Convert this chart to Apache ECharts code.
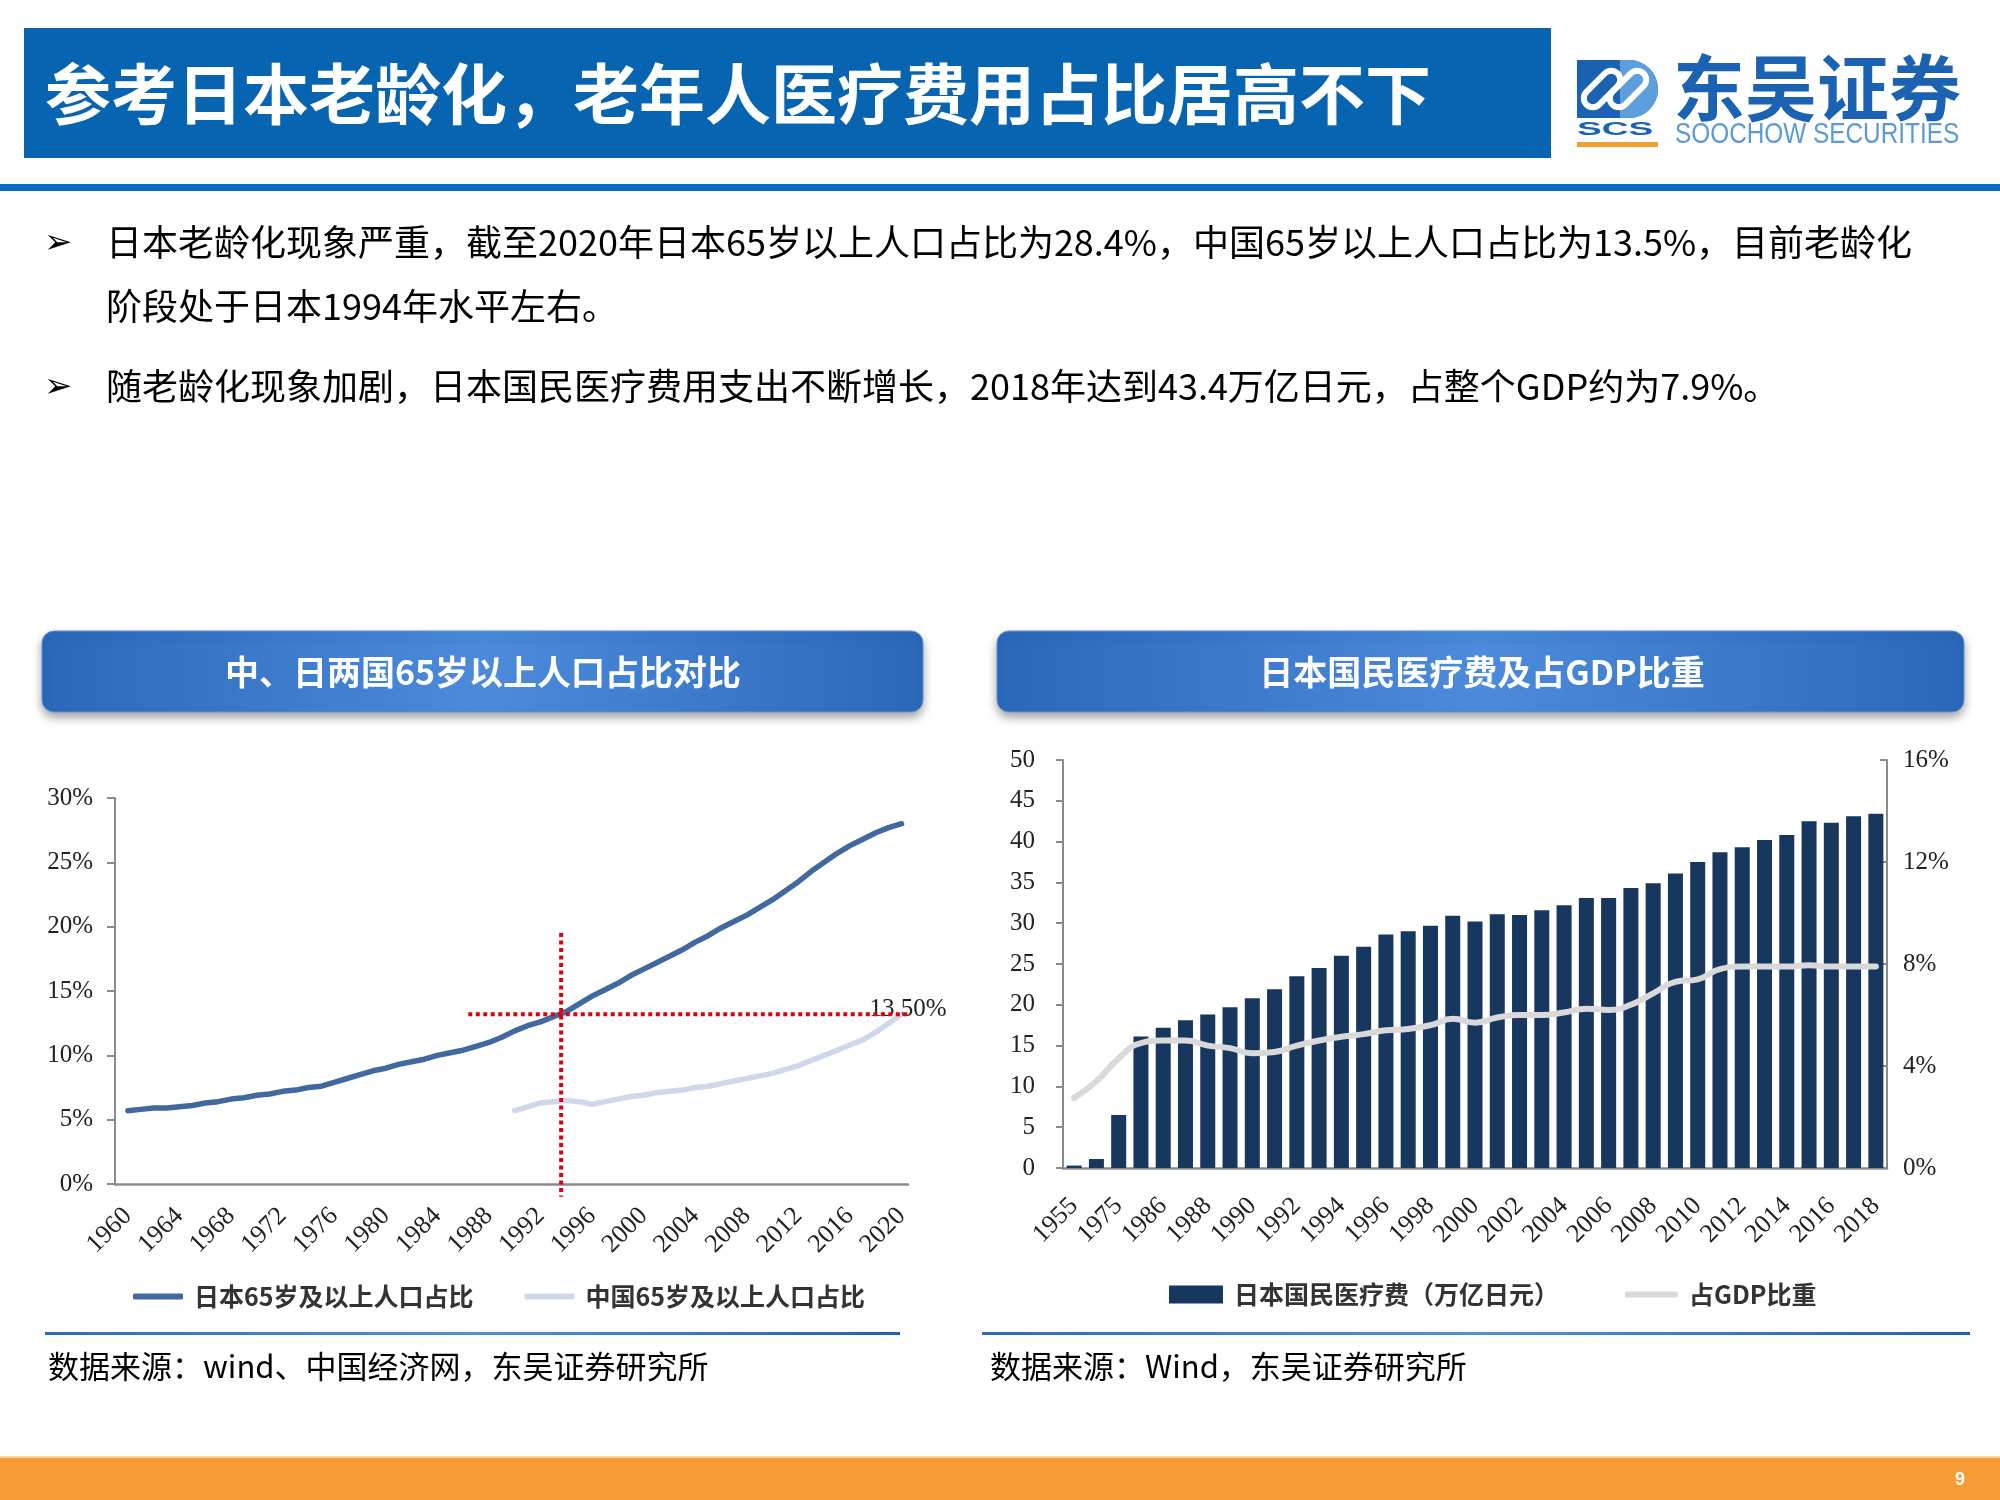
<!DOCTYPE html>
<html><head><meta charset="utf-8">
<script src="https://cdn.jsdelivr.net/npm/echarts@6/dist/echarts.min.js"></script>
<style>html,body{margin:0;padding:0;background:#fff}#c{width:2000px;height:1500px}</style>
</head><body><div id="c"></div>
<script>
// ---------- DATA ----------
const JP_YEARS = [1960,1961,1962,1963,1964,1965,1966,1967,1968,1969,1970,1971,1972,1973,1974,1975,1976,1977,1978,1979,1980,1981,1982,1983,1984,1985,1986,1987,1988,1989,1990,1991,1992,1993,1994,1995,1996,1997,1998,1999,2000,2001,2002,2003,2004,2005,2006,2007,2008,2009,2010,2011,2012,2013,2014,2015,2016,2017,2018,2019,2020];
const JP_65 = [5.7,5.8,5.9,5.9,6.0,6.1,6.3,6.4,6.6,6.7,6.9,7.0,7.2,7.3,7.5,7.6,7.9,8.2,8.5,8.8,9.0,9.3,9.5,9.7,10.0,10.2,10.4,10.7,11.0,11.4,11.9,12.3,12.6,13.0,13.4,14.0,14.6,15.1,15.6,16.2,16.7,17.2,17.7,18.2,18.8,19.3,19.9,20.4,20.9,21.5,22.1,22.8,23.5,24.3,25.0,25.7,26.3,26.8,27.3,27.7,28.0];
const CN_YEARS = [1990,1991,1992,1993,1994,1995,1996,1997,1998,1999,2000,2001,2002,2003,2004,2005,2006,2007,2008,2009,2010,2011,2012,2013,2014,2015,2016,2017,2018,2019,2020];
const CN_65 = [5.7,6.0,6.3,6.4,6.5,6.4,6.2,6.4,6.6,6.8,6.9,7.1,7.2,7.3,7.5,7.6,7.8,8.0,8.2,8.4,8.6,8.9,9.2,9.6,10.0,10.4,10.8,11.2,11.8,12.5,13.2];
const LEFT_TICKS = [1960,1964,1968,1972,1976,1980,1984,1988,1992,1996,2000,2004,2008,2012,2016,2020];
// reference (dotted red) lines
const REF_V_YEAR = 1993.6, REF_V_TOP = 19.5, REF_V_BOTTOM = -1.0;
const REF_H_VALUE = 13.2, REF_H_START = 1986.4, REF_H_END = 2021.6;
const REF_LABEL = '13.50%';

const MED_YEARS = ['1955','1965','1975','1985','1986','1987','1988','1989','1990','1991','1992','1993','1994','1995','1996','1997','1998','1999','2000','2001','2002','2003','2004','2005','2006','2007','2008','2009','2010','2011','2012','2013','2014','2015','2016','2017','2018'];
const MED_COST = [0.3,1.1,6.5,16.1,17.2,18.1,18.8,19.7,20.8,21.9,23.5,24.5,26.0,27.1,28.6,29.0,29.7,30.9,30.2,31.1,31.0,31.6,32.2,33.1,33.1,34.3,34.9,36.1,37.5,38.7,39.3,40.2,40.8,42.5,42.3,43.1,43.4];
const MED_GDP = [2.75,3.4,4.3,4.9,5.0,5.0,4.8,4.7,4.5,4.55,4.8,5.0,5.15,5.25,5.4,5.45,5.6,5.85,5.7,5.9,6.0,6.0,6.1,6.25,6.2,6.4,6.85,7.3,7.4,7.8,7.9,7.9,7.9,7.95,7.9,7.9,7.9];

const S_JP = '日本65岁及以上人口占比', S_CN = '中国65岁及以上人口占比';
const S_COST = '日本国民医疗费（万亿日元）', S_GDP = '占GDP比重';

// ---------- STYLE ----------
const SERIF = "'Liberation Serif','Times New Roman',serif";
const CJK = "'Noto Sans CJK SC','Noto Sans',sans-serif";
const AX = '#8a8a8a', RED = '#dc0011';

const chart = echarts.init(document.getElementById('c'));
const panelGrad = () => new echarts.graphic.LinearGradient(0,0,1,0,[
  {offset:0,color:'#2c68ba'},{offset:0.5,color:'#4c8bdb'},{offset:1,color:'#2c68ba'}]);
const lineGrad = () => new echarts.graphic.LinearGradient(0,0,1,0,[
  {offset:0,color:'#2a6db3'},{offset:0.5,color:'#4f93d3'},{offset:1,color:'#1d62ad'}]);

const txt = (x,y,text,font,fill,align) => ({type:'text', style:{x,y,text,font,fill,textAlign:align||'left',textVerticalAlign:'middle'}});

const graphics = [
  {type:'rect', shape:{x:24,y:28,width:1527,height:130}, style:{fill:'#0764b0'}},
  txt(45,94,'参考日本老龄化，老年人医疗费用占比居高不下',"bold 66px "+CJK,'#fff'),
  {type:'rect', shape:{x:0,y:184,width:2000,height:7}, style:{fill:'#0b6cc2'}},
  // logo
  {type:'rect', shape:{x:1577,y:60,width:81,height:58,r:[0,29,29,0]}, style:{fill:'#1b63b2'}},
  {type:'rect', shape:{x:1620,y:60,width:38,height:58,r:[0,29,29,0]}, style:{fill:'#5d9fdc'}},
  {type:'rect', x:1602, y:89, rotation:Math.PI/4, shape:{x:-22,y:-9,width:44,height:18,r:9}, style:{fill:'none',stroke:'#fff',lineWidth:6}},
  {type:'rect', x:1628, y:89, rotation:Math.PI/4, shape:{x:-22,y:-9,width:44,height:18,r:9}, style:{fill:'none',stroke:'#fff',lineWidth:6}},
  {type:'text', x:1577, y:130, scaleX:1.95, style:{x:0,y:0,text:'SCS',font:"bold 19px 'Liberation Sans',sans-serif",fill:'#1b63b2',textVerticalAlign:'middle'}},
  {type:'rect', shape:{x:1577,y:142,width:81,height:5}, style:{fill:'#f0a030'}},
  txt(1673,88,'东吴证券',"bold 72px "+CJK,'#1b63b2'),
  {type:'text', x:1675, y:135, scaleX:0.84, style:{x:0,y:0,text:'SOOCHOW SECURITIES',font:"29px 'Liberation Sans',sans-serif",fill:'#5b9bd5',textVerticalAlign:'middle'}},
  // bullets
  txt(44,244,'➢',"34px 'DejaVu Sans',sans-serif",'#000'),
  txt(106,242,'日本老龄化现象严重，截至2020年日本65岁以上人口占比为28.4%，中国65岁以上人口占比为13.5%，目前老龄化',"36px "+CJK,'#000'),
  txt(106,306,'阶段处于日本1994年水平左右。',"36px "+CJK,'#000'),
  txt(44,388,'➢',"34px 'DejaVu Sans',sans-serif",'#000'),
  txt(106,386,'随老龄化现象加剧，日本国民医疗费用支出不断增长，2018年达到43.4万亿日元，占整个GDP约为7.9%。',"36px "+CJK,'#000'),
  // panel headers
  {type:'rect', shape:{x:42,y:631,width:881,height:81,r:12}, style:{fill:panelGrad(),stroke:'#5f95d8',lineWidth:1,shadowBlur:10,shadowOffsetY:5,shadowColor:'rgba(0,0,0,0.35)'}},
  txt(483,672,'中、日两国65岁以上人口占比对比',"bold 34px "+CJK,'#fff','center'),
  {type:'rect', shape:{x:997,y:631,width:967,height:81,r:12}, style:{fill:panelGrad(),stroke:'#5f95d8',lineWidth:1,shadowBlur:10,shadowOffsetY:5,shadowColor:'rgba(0,0,0,0.35)'}},
  txt(1482,672,'日本国民医疗费及占GDP比重',"bold 34px "+CJK,'#fff','center'),
  // separators & sources
  {type:'rect', shape:{x:45,y:1332,width:855,height:3}, style:{fill:lineGrad()}},
  {type:'rect', shape:{x:982,y:1332,width:988,height:3}, style:{fill:lineGrad()}},
  txt(48,1366,'数据来源：wind、中国经济网，东吴证券研究所',"31px "+CJK,'#000'),
  txt(990,1366,'数据来源：Wind，东吴证券研究所',"31px "+CJK,'#000'),
  // footer
  {type:'rect', shape:{x:0,y:1458,width:2000,height:42}, style:{fill:'#f89a36'}},
  {type:'rect', shape:{x:0,y:1456,width:2000,height:2}, style:{fill:'#fbd2a4'}},
  txt(1960,1480,'9',"bold 18px 'Liberation Sans',sans-serif",'#fff','center')
];

const legendText = {fontFamily:CJK, fontSize:25, fontWeight:'bold', color:'#333', padding:[0,0,0,6]};

const option = {
  animation:false,
  backgroundColor:'#fff',
  graphic: graphics,
  grid:[
    {left:115, top:798, width:793, height:386, containLabel:false, outerBoundsMode:'none'},
    {left:1063, top:760, width:824, height:408, containLabel:false, outerBoundsMode:'none'}
  ],
  legend:[
    {left:128, top:1279, itemWidth:50, itemHeight:6, itemGap:51, selectedMode:false, icon:'roundRect',
     data:[S_JP,S_CN], textStyle:legendText},
    {left:1164, top:1277, itemWidth:54, itemHeight:18, selectedMode:false, icon:'rect', data:[S_COST], textStyle:legendText},
    {left:1620, top:1277, itemWidth:53, itemHeight:6, selectedMode:false, icon:'roundRect', data:[S_GDP], textStyle:legendText}
  ],
  xAxis:[
    {gridIndex:0, type:'value', min:1959, max:2020.5,
     axisLine:{show:true, lineStyle:{color:AX, width:2.5}}, axisTick:{show:false}, splitLine:{show:false},
     axisLabel:{customValues:LEFT_TICKS, rotate:45, margin:28, fontFamily:SERIF, fontSize:26, color:'#222', formatter:v=>String(v)}},
    {gridIndex:1, type:'category', data:MED_YEARS,
     axisLine:{show:true, lineStyle:{color:AX, width:2.5}}, axisTick:{show:false}, splitLine:{show:false},
     axisLabel:{interval:1, rotate:45, margin:34, fontFamily:SERIF, fontSize:26, color:'#222'}}
  ],
  yAxis:[
    {gridIndex:0, type:'value', min:0, max:30, interval:5,
     axisLine:{show:true, lineStyle:{color:AX, width:2}}, axisTick:{show:true, length:8, lineStyle:{color:AX, width:2}},
     splitLine:{show:false}, axisLabel:{formatter:'{value}%', margin:22, fontFamily:SERIF, fontSize:25, color:'#222'}},
    {gridIndex:1, type:'value', min:0, max:50, interval:5,
     axisLine:{show:true, lineStyle:{color:AX, width:2}}, axisTick:{show:true, length:7, lineStyle:{color:AX, width:2}},
     splitLine:{show:false}, axisLabel:{margin:28, fontFamily:SERIF, fontSize:25, color:'#222'}},
    {gridIndex:1, type:'value', position:'right', min:0, max:16, interval:4,
     axisLine:{show:true, lineStyle:{color:AX, width:2}}, axisTick:{show:true, inside:true, length:7, lineStyle:{color:AX, width:2}},
     splitLine:{show:false}, axisLabel:{formatter:'{value}%', margin:16, fontFamily:SERIF, fontSize:25, color:'#222'}}
  ],
  series:[
    {name:S_JP, type:'line', xAxisIndex:0, yAxisIndex:0, symbol:'none', color:'#41699f',
     lineStyle:{width:5.5, color:'#41699f', cap:'round'}, data:JP_YEARS.map((y,i)=>[y,JP_65[i]]), z:3},
    {name:S_CN, type:'line', xAxisIndex:0, yAxisIndex:0, symbol:'none', color:'#cfd8ea',
     lineStyle:{width:5.5, color:'#cfd8ea', cap:'round'}, data:CN_YEARS.map((y,i)=>[y,CN_65[i]]), z:2},
    {name:'ref-v', type:'line', xAxisIndex:0, yAxisIndex:0, symbol:'none', clip:false, silent:true, z:5,
     lineStyle:{width:4, color:RED, type:[4,3.5]}, data:[[REF_V_YEAR,REF_V_TOP],[REF_V_YEAR,REF_V_BOTTOM]]},
    {name:'ref-h', type:'line', xAxisIndex:0, yAxisIndex:0, symbol:'none', clip:false, silent:true, z:5,
     lineStyle:{width:4, color:RED, type:[4,3.5]}, data:[[REF_H_START,REF_H_VALUE],[REF_H_END,REF_H_VALUE]],
     markPoint:{symbol:'circle', symbolSize:1, itemStyle:{color:'rgba(0,0,0,0)'}, silent:true,
       label:{show:true, position:'inside', offset:[0,-5], formatter:REF_LABEL, fontFamily:SERIF, fontSize:25, color:'#222'},
       data:[{coord:[2020.5, REF_H_VALUE]}]}},
    {name:S_COST, type:'bar', xAxisIndex:1, yAxisIndex:1, barWidth:15, color:'#17375e',
     itemStyle:{color:'#17375e'}, data:MED_COST, z:2},
    {name:S_GDP, type:'line', xAxisIndex:1, yAxisIndex:2, symbol:'none', smooth:true, color:'#d9d9d9',
     lineStyle:{width:6, color:'#d9d9d9', cap:'round'}, data:MED_GDP, z:4}
  ]
};
chart.setOption(option);
</script>
</body></html>
